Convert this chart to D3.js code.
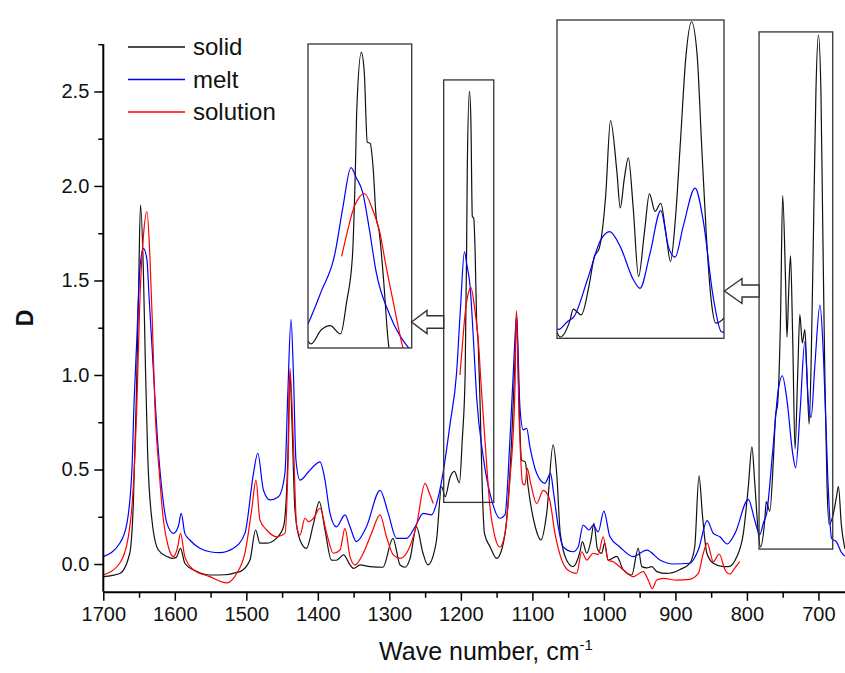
<!DOCTYPE html>
<html>
<head>
<meta charset="utf-8">
<script src="https://cdn.jsdelivr.net/npm/d3@7"></script>
<style>
  body { margin: 0; background: #fff; }
  text { font-family: Arial, "Liberation Sans", sans-serif; fill: #111; }
</style>
</head>
<body>
<svg id="chart" width="845" height="673"></svg>
<script>
// [wave number, D]
var solidData = [[1700,-0.067],[1677,-0.05],[1663,0.057],[1658,0.32],[1654,0.85],[1651,1.38],[1648,1.90],[1644,1.556],[1641,1.03],[1638,0.587],[1632,0.233],[1623,0.074],[1611,0.04],[1604,0.03],[1598,0.035],[1592,0.083],[1586,0.004],[1569,-0.04],[1551,-0.058],[1537,-0.058],[1509,-0.04],[1495,0.02],[1487,0.18],[1481,0.11],[1472,0.11],[1458,0.136],[1448,0.197],[1442,0.55],[1439,1.01],[1436,0.73],[1432,0.286],[1425,0.127],[1416,0.083],[1406,0.215],[1398,0.33],[1390,0.18],[1381,0.021],[1374,0.02],[1364,0.048],[1355,-0.005],[1350,-0.023],[1341,-0.005],[1327,-0.014],[1309,-0.017],[1295,0.136],[1285,-0.005],[1278,-0.017],[1271,0.03],[1262,0.197],[1253,0.057],[1246,-0.005],[1239,0.04],[1234,0.127],[1227,0.41],[1222,0.356],[1215,0.46],[1209,0.49],[1202,0.43],[1198,0.66],[1194,1.0],[1192,1.65],[1191,2.1],[1188,2.5],[1186,2.35],[1184,1.84],[1182,1.83],[1180,1.645],[1178,1.29],[1176,1.185],[1173,0.83],[1170,0.39],[1167,0.162],[1159,0.09],[1150,0.03],[1143,0.074],[1136,0.233],[1129,0.656],[1124,1.10],[1122,1.33],[1120,1.04],[1115,0.55],[1110,0.54],[1106,0.41],[1096,0.197],[1088,0.127],[1080,0.268],[1071,0.63],[1066,0.48],[1061,0.162],[1052,0.02],[1043,-0.014],[1034,0.057],[1030,0.118],[1024,0.057],[1018,0.127],[1014,0.215],[1009,0.08],[1003,0.057],[999,0.11],[994,0.02],[982,0.04],[973,-0.03],[961,-0.058],[952,0.083],[947,-0.014],[940,-0.02],[933,-0.014],[926,-0.04],[912,-0.05],[894,-0.03],[880,0.004],[873,0.09],[867,0.466],[862,0.25],[856,0.057],[847,0.004],[833,-0.014],[826,-0.014],[814,0.04],[805,0.162],[798,0.41],[793,0.62],[789,0.427],[784,0.162],[781,0.09],[775,0.233],[773,0.33],[768,0.28],[763,0.55],[760,0.78],[757,0.85],[753,1.3],[750,1.95],[746,1.5],[744,1.2],[741.5,1.45],[739,1.63],[736,1.2],[732.7,0.61],[729,1.0],[726,1.32],[722.5,1.17],[719,1.24],[716,1.0],[713,0.74],[710,1.1],[707,1.74],[703.5,2.5],[700,2.8],[696.5,2.5],[694,1.8],[691,0.99],[688,0.42],[685,0.21],[679,0.268],[675,0.35],[672,0.41],[668,0.21],[663,0.08]];

var meltData = [[1700,0.039],[1677,0.11],[1667,0.215],[1660,0.497],[1657,0.85],[1653,1.20],[1649,1.556],[1644,1.67],[1639,1.61],[1636,1.414],[1630,1.026],[1624.5,0.674],[1618,0.39],[1611,0.215],[1602,0.162],[1595,0.2],[1591,0.268],[1586,0.162],[1579,0.127],[1565,0.083],[1551,0.065],[1537,0.06],[1518,0.083],[1502,0.162],[1490,0.48],[1484,0.586],[1476,0.39],[1467,0.339],[1455,0.356],[1446,0.48],[1442,0.90],[1437.5,1.295],[1434,0.99],[1430.6,0.55],[1425,0.444],[1413,0.488],[1404,0.524],[1397,0.54],[1390,0.444],[1383,0.268],[1374,0.197],[1362,0.26],[1355,0.197],[1346,0.118],[1332,0.197],[1313,0.39],[1301.5,0.268],[1290,0.136],[1276,0.136],[1264,0.197],[1252.6,0.268],[1241,0.26],[1234,0.32],[1225,0.48],[1215,0.744],[1206,1.01],[1200.6,1.35],[1195,1.652],[1191.5,1.58],[1187,1.467],[1182.6,1.20],[1178,0.885],[1168.7,0.567],[1157,0.339],[1145.5,0.242],[1138.3,0.26],[1131.4,0.656],[1126.7,1.01],[1122,1.31],[1117.4,0.83],[1112.8,0.71],[1108,0.718],[1103.4,0.62],[1094,0.48],[1082.4,0.427],[1074.5,0.48],[1070.8,0.39],[1063.8,0.197],[1056.8,0.09],[1043,0.065],[1036,0.09],[1029,0.206],[1020.5,0.18],[1015,0.206],[1008,0.17],[1000,0.28],[991.5,0.144],[977.6,0.09],[959,0.039],[940,0.074],[921.6,0.021],[903,0.0],[880,0.004],[868,0.074],[855.5,0.23],[847,0.162],[837.8,0.144],[827.5,0.106],[816.7,0.162],[798,0.342],[789,0.23],[782,0.155],[776.6,0.222],[772.4,0.268],[764.3,0.58],[756,0.925],[750.5,0.996],[744,0.867],[735.8,0.58],[731.8,0.509],[725.6,0.81],[719,1.177],[714.3,0.867],[710.2,0.776],[705.2,1.039],[697.8,1.37],[692.9,1.097],[686.7,0.437],[681.6,0.135],[674.6,0.116],[667.6,0.06],[663,0.042]];

// null marks the break in the solution trace
var solutionData = [[1700,-0.058],[1677,0.004],[1665,0.144],[1658,0.41],[1653,0.85],[1649,1.38],[1644,1.73],[1639,1.864],[1635,1.644],[1631.5,1.29],[1628,0.85],[1622,0.497],[1616,0.233],[1609,0.09],[1602,0.039],[1596,0.09],[1592,0.162],[1586,0.039],[1574,-0.03],[1551,-0.067],[1527.5,-0.1],[1513.5,-0.05],[1502,0.057],[1492.5,0.286],[1486.5,0.444],[1481,0.233],[1471.5,0.18],[1457.5,0.144],[1446,0.162],[1441,0.64],[1439,1.035],[1434,0.62],[1429.6,0.197],[1425,0.153],[1418,0.242],[1413,0.224],[1406,0.242],[1397,0.295],[1387.6,0.162],[1378.4,0.057],[1369,0.074],[1362,0.189],[1355,0.039],[1348,-0.005],[1336.5,0.057],[1325,0.162],[1313,0.26],[1304,0.144],[1294.5,0.048],[1285,0.03],[1273.5,0.074],[1262,0.206],[1250,0.427],[1244,0.374],[1238.6,0.32],[1220,null],[1201.3,1.0],[1197,1.2],[1194,1.326],[1189.7,1.43],[1186,1.462],[1180.4,1.344],[1175.7,1.185],[1171.2,0.92],[1166.3,0.656],[1159.3,0.303],[1152.3,0.144],[1145.4,0.09],[1138.3,0.162],[1131.4,0.444],[1124.4,0.92],[1122.5,1.34],[1118.3,0.744],[1113.6,0.427],[1110.4,0.418],[1107.2,0.506],[1102.4,0.427],[1094,0.32],[1084.8,0.39],[1076.4,0.348],[1068.4,0.162],[1059,0.021],[1047.5,-0.04],[1038,-0.05],[1031,0.065],[1024,0.021],[1015,0.057],[1008,0.05],[1001,0.144],[994,0.02],[987,0.012],[973,-0.03],[959,-0.067],[945,-0.04],[938,-0.085],[932.4,-0.13],[926,-0.085],[917,-0.076],[898.3,-0.085],[880,-0.081],[868,-0.05],[861,0.057],[855.5,0.11],[847,0.012],[838.7,0.053],[830.7,-0.03],[823.8,-0.053],[816.7,-0.02],[810,0.012]];

var seriesNames = ["solid", "melt", "solution"];
var seriesColors = ["#111111", "#0000ff", "#ff0000"];
var xTicks = [1700, 1600, 1500, 1400, 1300, 1200, 1100, 1000, 900, 800, 700];
var xMinor = [1650, 1550, 1450, 1350, 1250, 1150, 1050, 950, 850, 750];
var yTicks = [0, 0.5, 1.0, 1.5, 2.0, 2.5];
var yMinor = [0.25, 0.75, 1.25, 1.75, 2.25, 2.75];

// magnified regions: [wave number range], [D range]
var zoom1Wn = [1224, 1154], zoom1D = [0.326, 2.561];
var zoom2Wn = [783, 680],   zoom2D = [0.079, 2.815];

var svg = d3.select("#chart");
var margin = {top: 44.2, left: 103.3, right: 845.6, bottom: 591.8};

var x = d3.scaleLinear().domain([1700, 662]).range([margin.left, margin.right]);
var y = d3.scaleLinear().domain([-0.147, 2.75]).range([margin.bottom, margin.top]);

var allData = [solidData, meltData, solutionData];

function drawCurves(g, xs, ys) {
  var line = d3.line()
      .defined(d => d[1] !== null)
      .x(d => xs(d[0]))
      .y(d => ys(d[1]))
      .curve(d3.curveMonotoneX);
  allData.forEach(function(data, i) {
    g.append("path")
      .attr("d", line(data))
      .attr("fill", "none")
      .attr("stroke", seriesColors[i])
      .attr("stroke-width", 1.2)
      .attr("stroke-linejoin", "round");
  });
}

// main curves
drawCurves(svg.append("g"), x, y);

// axes
var xAxis = svg.append("g")
    .attr("transform", "translate(0," + margin.bottom + ")")
    .call(d3.axisBottom(x).tickValues(xTicks).tickSize(9).tickSizeOuter(0).tickPadding(6).tickFormat(d3.format("d")));
svg.append("g")
    .attr("transform", "translate(0," + margin.bottom + ")")
    .call(d3.axisBottom(x).tickValues(xMinor).tickSize(6).tickFormat(""))
    .call(g => g.select(".domain").remove());

var yAxis = svg.append("g")
    .attr("transform", "translate(" + margin.left + ",0)")
    .call(d3.axisLeft(y).tickValues(yTicks).tickSize(9).tickSizeOuter(0).tickPadding(5).tickFormat(d3.format(".1f")));
svg.append("g")
    .attr("transform", "translate(" + margin.left + ",0)")
    .call(d3.axisLeft(y).tickValues(yMinor).tickSize(5).tickFormat(""))
    .call(g => g.select(".domain").remove());

svg.selectAll(".domain").attr("stroke", "#000").attr("stroke-width", 2);
svg.selectAll(".tick line").attr("stroke", "#000").attr("stroke-width", 1.5);
svg.selectAll(".tick text").attr("font-size", 20).attr("fill", "#111")
   .attr("font-family", "Arial, 'Liberation Sans', sans-serif");
yAxis.select(".domain").attr("d", "M0," + margin.bottom + "V" + margin.top);

// axis titles
var xTitle = svg.append("text")
    .attr("x", 486).attr("y", 660)
    .attr("text-anchor", "middle")
    .attr("font-size", 25);
xTitle.append("tspan").text("Wave number, cm");
xTitle.append("tspan").attr("dy", -10).attr("font-size", 15).text("-1");

svg.append("text")
    .attr("transform", "translate(33,318) rotate(-90)")
    .attr("text-anchor", "middle")
    .attr("font-size", 23)
    .attr("font-weight", "bold")
    .text("D");

// legend
var legend = svg.append("g");
seriesNames.forEach(function(name, i) {
  var ly = 47 + i * 32.5;
  legend.append("line")
    .attr("x1", 128).attr("x2", 185).attr("y1", ly).attr("y2", ly)
    .attr("stroke", seriesColors[i]).attr("stroke-width", 1.3);
  legend.append("text")
    .attr("x", 193).attr("y", ly + 8)
    .attr("font-size", 24)
    .text(name);
});

// zoom boxes, insets and arrows
var boxStroke = "#333";
function zoomBox(wn, dr) {
  svg.append("rect")
    .attr("x", x(wn[0])).attr("y", y(dr[1]))
    .attr("width", x(wn[1]) - x(wn[0]))
    .attr("height", y(dr[0]) - y(dr[1]))
    .attr("fill", "none").attr("stroke", boxStroke).attr("stroke-width", 1.3);
}
zoomBox(zoom1Wn, zoom1D);
zoomBox(zoom2Wn, zoom2D);

function inset(id, wn, dr, r) {
  var xs = d3.scaleLinear().domain(wn).range([r.x, r.x + r.w]);
  var ys = d3.scaleLinear().domain(dr).range([r.y + r.h, r.y]);
  svg.append("clipPath").attr("id", id)
    .append("rect").attr("x", r.x).attr("y", r.y).attr("width", r.w).attr("height", r.h);
  var g = svg.append("g").attr("clip-path", "url(#" + id + ")");
  g.append("rect").attr("x", r.x).attr("y", r.y).attr("width", r.w).attr("height", r.h).attr("fill", "#fff");
  drawCurves(g, xs, ys);
  svg.append("rect").attr("x", r.x).attr("y", r.y).attr("width", r.w).attr("height", r.h)
    .attr("fill", "none").attr("stroke", boxStroke).attr("stroke-width", 1.3);
}
inset("clip1", zoom1Wn, zoom1D, {x: 308, y: 44, w: 103.7, h: 304});
inset("clip2", zoom2Wn, zoom2D, {x: 557, y: 20, w: 167, h: 318.3});

function arrow(tip, base, tail, cy, head, shaft) {
  var pts = [[tip, cy], [base, cy - head], [base, cy - shaft], [tail, cy - shaft],
             [tail, cy + shaft], [base, cy + shaft], [base, cy + head]];
  svg.append("path")
    .attr("d", d3.line()(pts) + "Z")
    .attr("fill", "#fff").attr("stroke", boxStroke).attr("stroke-width", 1.4);
}
arrow(411.5, 427, x(zoom1Wn[0]), 322, 11.5, 6.3);
arrow(724.5, 742, x(zoom2Wn[0]), 291, 12.5, 6);
</script>
</body>
</html>
